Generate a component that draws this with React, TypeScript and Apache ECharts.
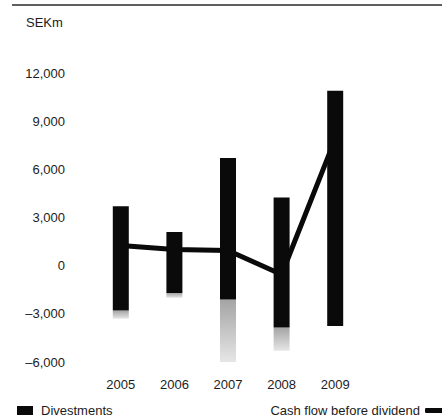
import React, { useEffect, useRef } from "react";
import * as echarts from "echarts";

// Fiscal years on the category axis
const years = ["2005", "2006", "2007", "2008", "2009"];

// Top of each black bar, SEKm
const barTop = [3700, 2100, 6700, 4250, 10900];
// Bottom of each black bar, SEKm
const barBottom = [-2800, -1700, -2100, -3850, -3750];
// Stippled extension below the black bar, SEKm
const acquisitions = [-500, -300, -4350, -1450, 0];
// Cash flow before dividend, SEKm
const cashFlow = [1250, 1000, 950, -550, 7900];

// Value axis ticks
const yMin = -6000;
const yMax = 12000;
const yStep = 3000;

const FONT = "'Liberation Sans', Arial, Helvetica, sans-serif";
const TEXT = "#1c1c1c";
const INK = "#0a0a0a";

export default function App() {
  const ref = useRef<HTMLDivElement>(null);

  useEffect(() => {
    if (!ref.current) return;
    const chart = echarts.init(ref.current, undefined, { renderer: "svg" });

    // One cumulative stack: invisible base down to the stippled end,
    // then the stippled piece, then the black bar up to its top.
    const stippleEnd = barBottom.map((b, i) => b + acquisitions[i]);
    const stippleLen = acquisitions.map((a) => -a);
    const blackLen = barTop.map((t, i) => t - barBottom[i]);

    const stacked = {
      type: "bar",
      stack: "flows",
      stackStrategy: "all",
      barWidth: 16,
    };

    chart.setOption({
      animation: false,
      backgroundColor: "#ffffff",
      textStyle: { fontFamily: FONT },
      grid: { left: 94, right: 80, top: 73, bottom: 57, containLabel: false },
      xAxis: {
        type: "category",
        data: years,
        axisLine: { show: false },
        axisTick: { show: false },
        axisLabel: { color: TEXT, fontSize: 13, fontFamily: FONT, margin: 16 },
      },
      yAxis: {
        type: "value",
        min: yMin,
        max: yMax,
        interval: yStep,
        axisLine: { show: false },
        axisTick: { show: false },
        splitLine: { show: false },
        axisLabel: {
          color: TEXT,
          fontSize: 13,
          fontFamily: FONT,
          margin: 29,
          formatter: (v: number) =>
            v < 0
              ? "\u2013" + Math.abs(v).toLocaleString("en-US")
              : v.toLocaleString("en-US"),
        },
      },
      legend: [
        {
          data: [{ name: "Divestments", icon: "rect" }],
          left: 12,
          top: 399,
          itemWidth: 16,
          itemHeight: 9,
          selectedMode: false,
          textStyle: { color: TEXT, fontSize: 13, fontFamily: FONT, padding: [0, 0, 0, 3] },
        },
        {
          data: [{ name: "Cash flow before dividend", icon: "roundRect" }],
          right: -8,
          top: 399,
          align: "right",
          itemWidth: 20,
          itemHeight: 5,
          selectedMode: false,
          textStyle: { color: TEXT, fontSize: 13, fontFamily: FONT },
        },
      ],
      graphic: [
        {
          type: "line",
          shape: { x1: 12, y1: 5, x2: 442, y2: 5 },
          style: { stroke: "#2a2a2a", lineWidth: 1.5 },
        },
        {
          type: "text",
          left: 26,
          top: 16,
          style: { text: "SEKm", fill: TEXT, fontSize: 13, fontFamily: FONT },
        },
      ],
      series: [
        {
          ...stacked,
          name: "Base",
          data: stippleEnd,
          itemStyle: { color: "rgba(0,0,0,0)" },
          silent: true,
        },
        {
          ...stacked,
          name: "Acquisitions",
          data: stippleLen,
          itemStyle: {
            color: new echarts.graphic.LinearGradient(0, 0, 0, 1, [
              { offset: 0, color: "#a4a4a4" },
              { offset: 1, color: "#e6e6e6" },
            ]),
          },
        },
        {
          ...stacked,
          name: "Divestments",
          data: blackLen,
          itemStyle: { color: INK },
        },
        {
          name: "Cash flow before dividend",
          type: "line",
          data: cashFlow,
          symbol: "none",
          z: 3,
          lineStyle: { color: INK, width: 5 },
          itemStyle: { color: INK },
        },
      ],
    });

    return () => chart.dispose();
  }, []);

  return (
    <div
      ref={ref}
      style={{ position: "fixed", left: 0, top: 0, width: 442, height: 419 }}
    />
  );
}
